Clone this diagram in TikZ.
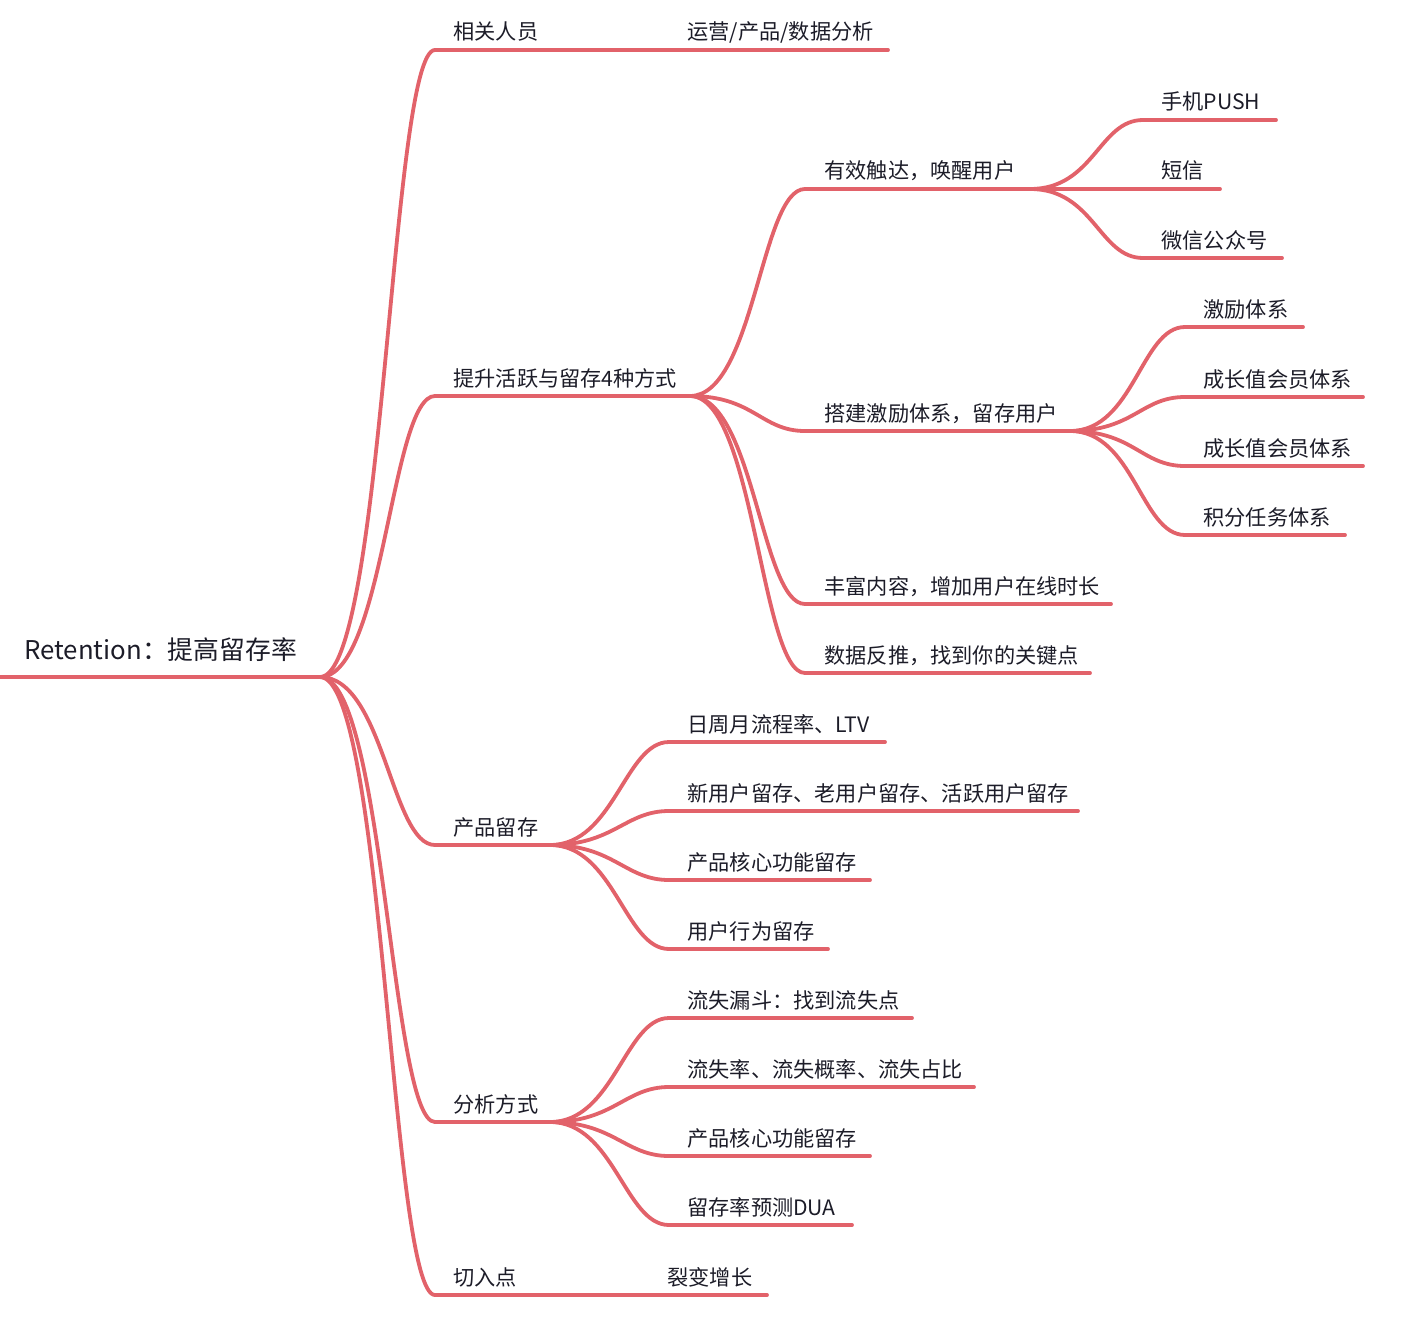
\documentclass[tikz,border=0pt]{standalone}
\usepackage{fontspec}
\newfontfamily\cjk{Noto Sans CJK SC}
\definecolor{linec}{RGB}{226,98,106}
\definecolor{txtc}{RGB}{28,28,40}
\tikzset{
  conn/.style={draw=linec, line width=1.9pt, line cap=round},
  rootline/.style={draw=linec, line width=2.4pt},
  lbl/.style={inner sep=0pt, text=txtc, anchor=base west, font=\cjk\fontsize{10.6}{12}\selectfont},
  rootlbl/.style={inner sep=0pt, text=txtc, anchor=base west, font=\cjk\fontsize{12.9}{14}\selectfont},
}
% name, text x, underline y, line start x, line end x, text
\newcommand\mmtopic[6]{%
  \coordinate (#1s) at (#4,#3);
  \coordinate (#1e) at (#5,#3);
  \node[lbl] (#1) at (#2,#3-10) {#6};
  \draw[conn] (#1s) -- (#1e);}
\newcommand\mmlink[2]{\draw[conn] (#1e) .. controls +(64,0) and +(-44,0) .. (#2s);}
\begin{document}
\begin{tikzpicture}[x=0.5pt,y=-0.5pt]
\useasboundingbox (0,0) rectangle (1416,1316);
% root
\coordinate (Rs) at (0,677);
\coordinate (Re) at (320,677);
\node[rootlbl] (R) at (24,659) {Retention：提高留存率};
\draw[rootline] (Rs) -- (Re);
% level 1
\mmtopic{A}{453}{50}{435}{555}{相关人员}
\mmtopic{B}{453}{396}{435}{690}{提升活跃与留存4种方式}
\mmtopic{C}{453}{845}{435}{550}{产品留存}
\mmtopic{D}{453}{1122}{435}{550}{分析方式}
\mmtopic{E}{453}{1295}{435}{550}{切入点}
\foreach \n in {A,B,C,D,E} {\mmlink{R}{\n}}
% A, E children
\mmtopic{A1}{687}{50}{555}{888}{运营/产品/数据分析}
\mmtopic{E1}{667}{1295}{550}{767}{裂变增长}
% B children
\mmtopic{B1}{824}{189}{805}{1030}{有效触达，唤醒用户}
\mmtopic{B2}{824}{431}{805}{1070}{搭建激励体系，留存用户}
\mmtopic{B3}{824}{604}{805}{1111}{丰富内容，增加用户在线时长}
\mmtopic{B4}{824}{673}{805}{1090}{数据反推，找到你的关键点}
\foreach \n in {B1,B2,B3,B4} {\mmlink{B}{\n}}
% B1 children
\mmtopic{B11}{1161}{120}{1143}{1276}{手机PUSH}
\mmtopic{B12}{1161}{189}{1143}{1220}{短信}
\mmtopic{B13}{1161}{258}{1143}{1282}{微信公众号}
\foreach \n in {B11,B12,B13} {\mmlink{B1}{\n}}
% B2 children
\mmtopic{B21}{1203}{327}{1185}{1303}{激励体系}
\mmtopic{B22}{1203}{397}{1185}{1363}{成长值会员体系}
\mmtopic{B23}{1203}{466}{1185}{1363}{成长值会员体系}
\mmtopic{B24}{1203}{535}{1185}{1345}{积分任务体系}
\foreach \n in {B21,B22,B23,B24} {\mmlink{B2}{\n}}
% C children
\mmtopic{C1}{687}{742}{669}{885}{日周月流程率、LTV}
\mmtopic{C2}{687}{811}{669}{1078}{新用户留存、老用户留存、活跃用户留存}
\mmtopic{C3}{687}{880}{669}{870}{产品核心功能留存}
\mmtopic{C4}{687}{949}{669}{828}{用户行为留存}
\foreach \n in {C1,C2,C3,C4} {\mmlink{C}{\n}}
% D children
\mmtopic{D1}{687}{1018}{669}{912}{流失漏斗：找到流失点}
\mmtopic{D2}{687}{1087}{669}{974}{流失率、流失概率、流失占比}
\mmtopic{D3}{687}{1156}{669}{870}{产品核心功能留存}
\mmtopic{D4}{687}{1225}{669}{852}{留存率预测DUA}
\foreach \n in {D1,D2,D3,D4} {\mmlink{D}{\n}}
\end{tikzpicture}
\end{document}
